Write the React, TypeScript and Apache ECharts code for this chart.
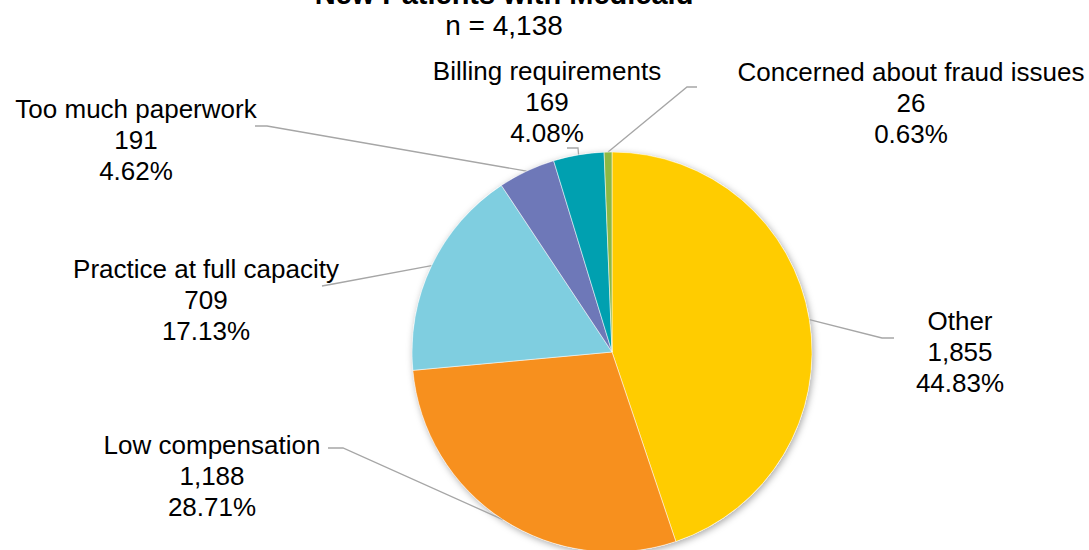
import React, { useEffect, useRef } from "react";
import * as echarts from "echarts";

const categories = [
  "Other",
  "Low compensation",
  "Practice at full capacity",
  "Too much paperwork",
  "Billing requirements",
  "Concerned about fraud issues",
];
const counts = [1855, 1188, 709, 191, 169, 26];
const colors = ["#FFCC00", "#F7901E", "#7FCEE0", "#6E78B8", "#00A0B0", "#8DB843"];
const titleLine = "New Patients with Medicaid";
const subtitle = "n = 4,138";

// label layout: [centerX, centerY, elbowX, elbowY, endX, endY]
const labelLayouts: number[][] = [
  [960, 352, 882, 338, 894, 338],
  [212, 476, 343, 448, 328, 448],
  [206, 300, 333, 284, 322, 286],
  [136, 140, 267, 126, 255, 126],
  [547, 102, 578, 148, 567, 148],
  [911, 103, 687, 87, 697, 87],
];

const FONT = "'Liberation Sans', Arial, sans-serif";

export default function App() {
  const ref = useRef<HTMLDivElement>(null);
  useEffect(() => {
    if (!ref.current) return;
    const chart = echarts.init(ref.current, null, { renderer: "svg" });
    const total = counts.reduce((a, b) => a + b, 0);
    chart.setOption({
      animation: false,
      backgroundColor: "#ffffff",
      graphic: [
        {
          type: "text",
          x: 504,
          y: -6,
          style: {
            text: titleLine,
            font: `bold 29px ${FONT}`,
            fill: "#000",
            textAlign: "center",
            textVerticalAlign: "middle",
          },
        },
        {
          type: "text",
          x: 504,
          y: 25,
          style: {
            text: subtitle,
            font: `28px ${FONT}`,
            fill: "#000",
            textAlign: "center",
            textVerticalAlign: "middle",
          },
        },
      ],
      series: [
        {
          type: "pie",
          silent: true,
          z: 1,
          center: [612, 352],
          radius: 200,
          label: { show: false },
          labelLine: { show: false },
          emphasis: { disabled: true },
          itemStyle: {
            color: "#ffffff",
            shadowBlur: 7,
            shadowOffsetX: 1.5,
            shadowOffsetY: 2,
            shadowColor: "rgba(0,0,0,0.35)",
          },
          data: [{ value: total, name: "total" }],
        },
        {
          type: "pie",
          z: 2,
          center: [612, 352],
          radius: 200,
          startAngle: 90,
          clockwise: true,
          avoidLabelOverlap: false,
          emphasis: { disabled: true },
          itemStyle: { borderColor: "#ffffff", borderWidth: 0.5 },
          label: {
            show: true,
            position: "outside",
            fontFamily: FONT,
            fontSize: 26,
            lineHeight: 31,
            color: "#000",
            align: "center",
            formatter: (p: any) =>
              `${p.name}\n${Number(p.value).toLocaleString("en-US")}\n${Number(p.percent).toFixed(2)}%`,
          },
          labelLine: {
            show: true,
            smooth: false,
            lineStyle: { color: "#A6A6A6", width: 1.3 },
          },
          labelLayout: (params: any) => {
            const l = labelLayouts[params.dataIndex];
            const start = params.labelLinePoints ? params.labelLinePoints[0] : [l[2], l[3]];
            return {
              x: l[0],
              y: l[1],
              align: "center",
              verticalAlign: "middle",
              labelLinePoints: [start, [l[2], l[3]], [l[4], l[5]]],
            };
          },
          data: categories.map((name, i) => ({
            name,
            value: counts[i],
            itemStyle: { color: colors[i] },
          })),
        },
      ],
    });
    return () => chart.dispose();
  }, []);
  return (
    <div
      ref={ref}
      style={{ position: "fixed", left: 0, top: 0, width: 1089, height: 550 }}
    />
  );
}
